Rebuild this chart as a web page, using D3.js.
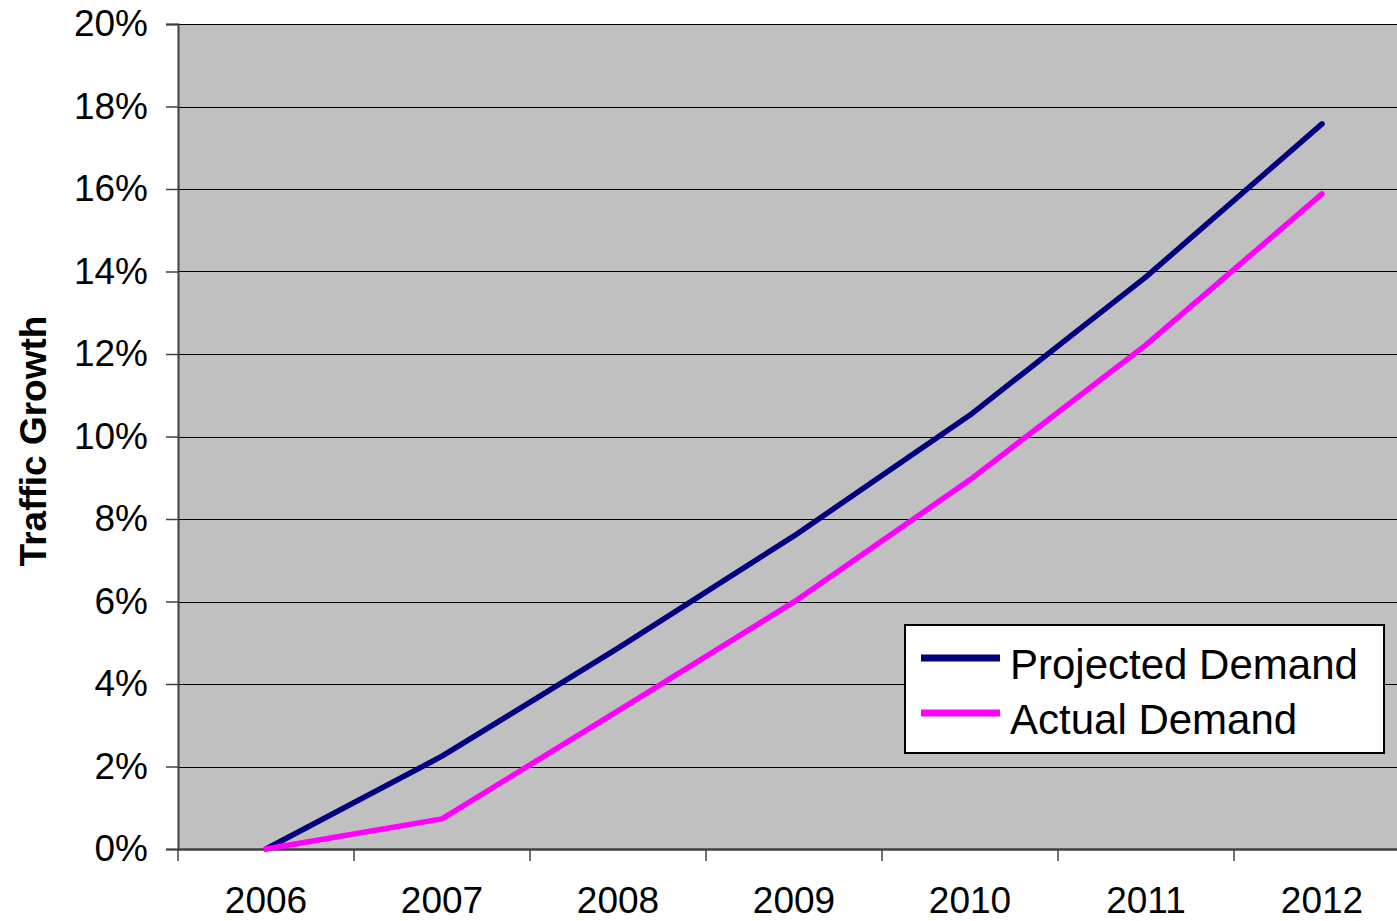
<!DOCTYPE html>
<html>
<head>
<meta charset="utf-8">
<script src="https://cdn.jsdelivr.net/npm/d3@7"></script>
<style>
  html, body { margin: 0; padding: 0; background: #fff; overflow: hidden; }
  svg { display: block; font-family: "Liberation Sans", Arial, sans-serif; }
</style>
</head>
<body>
<svg id="chart" width="1397" height="921"></svg>
<script>
// Traffic growth relative to 2006, by year
const years = ["2006", "2007", "2008", "2009", "2010", "2011", "2012"];
const projectedDemand = [0.000, 0.0225, 0.0487, 0.0759, 0.1052, 0.1387, 0.1758];
const actualDemand    = [0.000, 0.0073, 0.0335, 0.0599, 0.0895, 0.1222, 0.1588];
const yTicks = [0, 0.02, 0.04, 0.06, 0.08, 0.10, 0.12, 0.14, 0.16, 0.18, 0.20];
const seriesNames = ["Projected Demand", "Actual Demand"];
const seriesColors = ["#000080", "#FF00FF"];

const svg = d3.select("#chart");
const plot = { left: 178, top: 24, right: 1410, bottom: 849 };

const x = d3.scaleBand().domain(years).range([plot.left, plot.right]).padding(0);
const y = d3.scaleLinear().domain([0, 0.20]).range([plot.bottom, plot.top]);
const cx = d => x(d) + x.bandwidth() / 2;

// plot area
svg.append("rect")
  .attr("x", plot.left).attr("y", plot.top)
  .attr("width", plot.right - plot.left).attr("height", plot.bottom - plot.top)
  .attr("fill", "#C0C0C0");

// horizontal gridlines
svg.append("g").selectAll("line")
  .data(yTicks.filter(t => t > 0))
  .join("line")
  .attr("x1", plot.left).attr("x2", plot.right)
  .attr("y1", d => Math.round(y(d)) + 0.5).attr("y2", d => Math.round(y(d)) + 0.5)
  .attr("stroke", "#000").attr("stroke-width", 1.2);

// y axis
const yAxis = d3.axisLeft(y).tickValues(yTicks).tickFormat(d3.format(".0%"))
  .tickSize(12).tickPadding(18);
const gy = svg.append("g").attr("transform", `translate(${plot.left},0)`).call(yAxis);
gy.select(".domain").attr("stroke", "#404040").attr("stroke-width", 2);
gy.selectAll(".tick line").attr("stroke", "#404040").attr("stroke-width", 1.5);
gy.selectAll(".tick text")
  .attr("font-size", 37).attr("fill", "#000")
  .attr("font-family", "'Liberation Sans', Arial, sans-serif");

// x axis with ticks at category boundaries
const xAxis = d3.axisBottom(x).tickSize(0).tickPadding(38);
const gx = svg.append("g").attr("transform", `translate(0,${plot.bottom})`).call(xAxis);
gx.select(".domain").attr("stroke", "#404040").attr("stroke-width", 2.5);
gx.selectAll(".tick text")
  .attr("font-size", 37).attr("fill", "#000")
  .attr("font-family", "'Liberation Sans', Arial, sans-serif");
svg.append("g").selectAll("line")
  .data(years.concat(["end"]))
  .join("line")
  .attr("x1", (d, i) => plot.left + i * x.bandwidth())
  .attr("x2", (d, i) => plot.left + i * x.bandwidth())
  .attr("y1", plot.bottom).attr("y2", plot.bottom + 12)
  .attr("stroke", "#404040").attr("stroke-width", 1.5);

// y axis title
svg.append("text")
  .attr("transform", "translate(46,441) rotate(-90)")
  .attr("text-anchor", "middle")
  .attr("font-size", 37).attr("font-weight", "bold")
  .text("Traffic Growth");

// lines
const line = d3.line().x((d, i) => cx(years[i])).y(d => y(d));
[projectedDemand, actualDemand].forEach((vals, k) => {
  svg.append("path")
    .datum(vals)
    .attr("d", line)
    .attr("fill", "none")
    .attr("stroke", seriesColors[k])
    .attr("stroke-width", 5.5)
    .attr("stroke-linejoin", "round")
    .attr("stroke-linecap", "round");
});

// legend
const legend = svg.append("g");
legend.append("rect")
  .attr("x", 905).attr("y", 625).attr("width", 479).attr("height", 128)
  .attr("fill", "#fff").attr("stroke", "#000").attr("stroke-width", 2);
seriesNames.forEach((name, k) => {
  const ly = 658 + k * 55;
  legend.append("line")
    .attr("x1", 921).attr("x2", 1000).attr("y1", ly).attr("y2", ly)
    .attr("stroke", seriesColors[k]).attr("stroke-width", 7);
  legend.append("text")
    .attr("x", 1010).attr("y", ly + 21)
    .attr("font-size", 42).attr("fill", "#000")
    .text(name);
});
</script>
</body>
</html>
